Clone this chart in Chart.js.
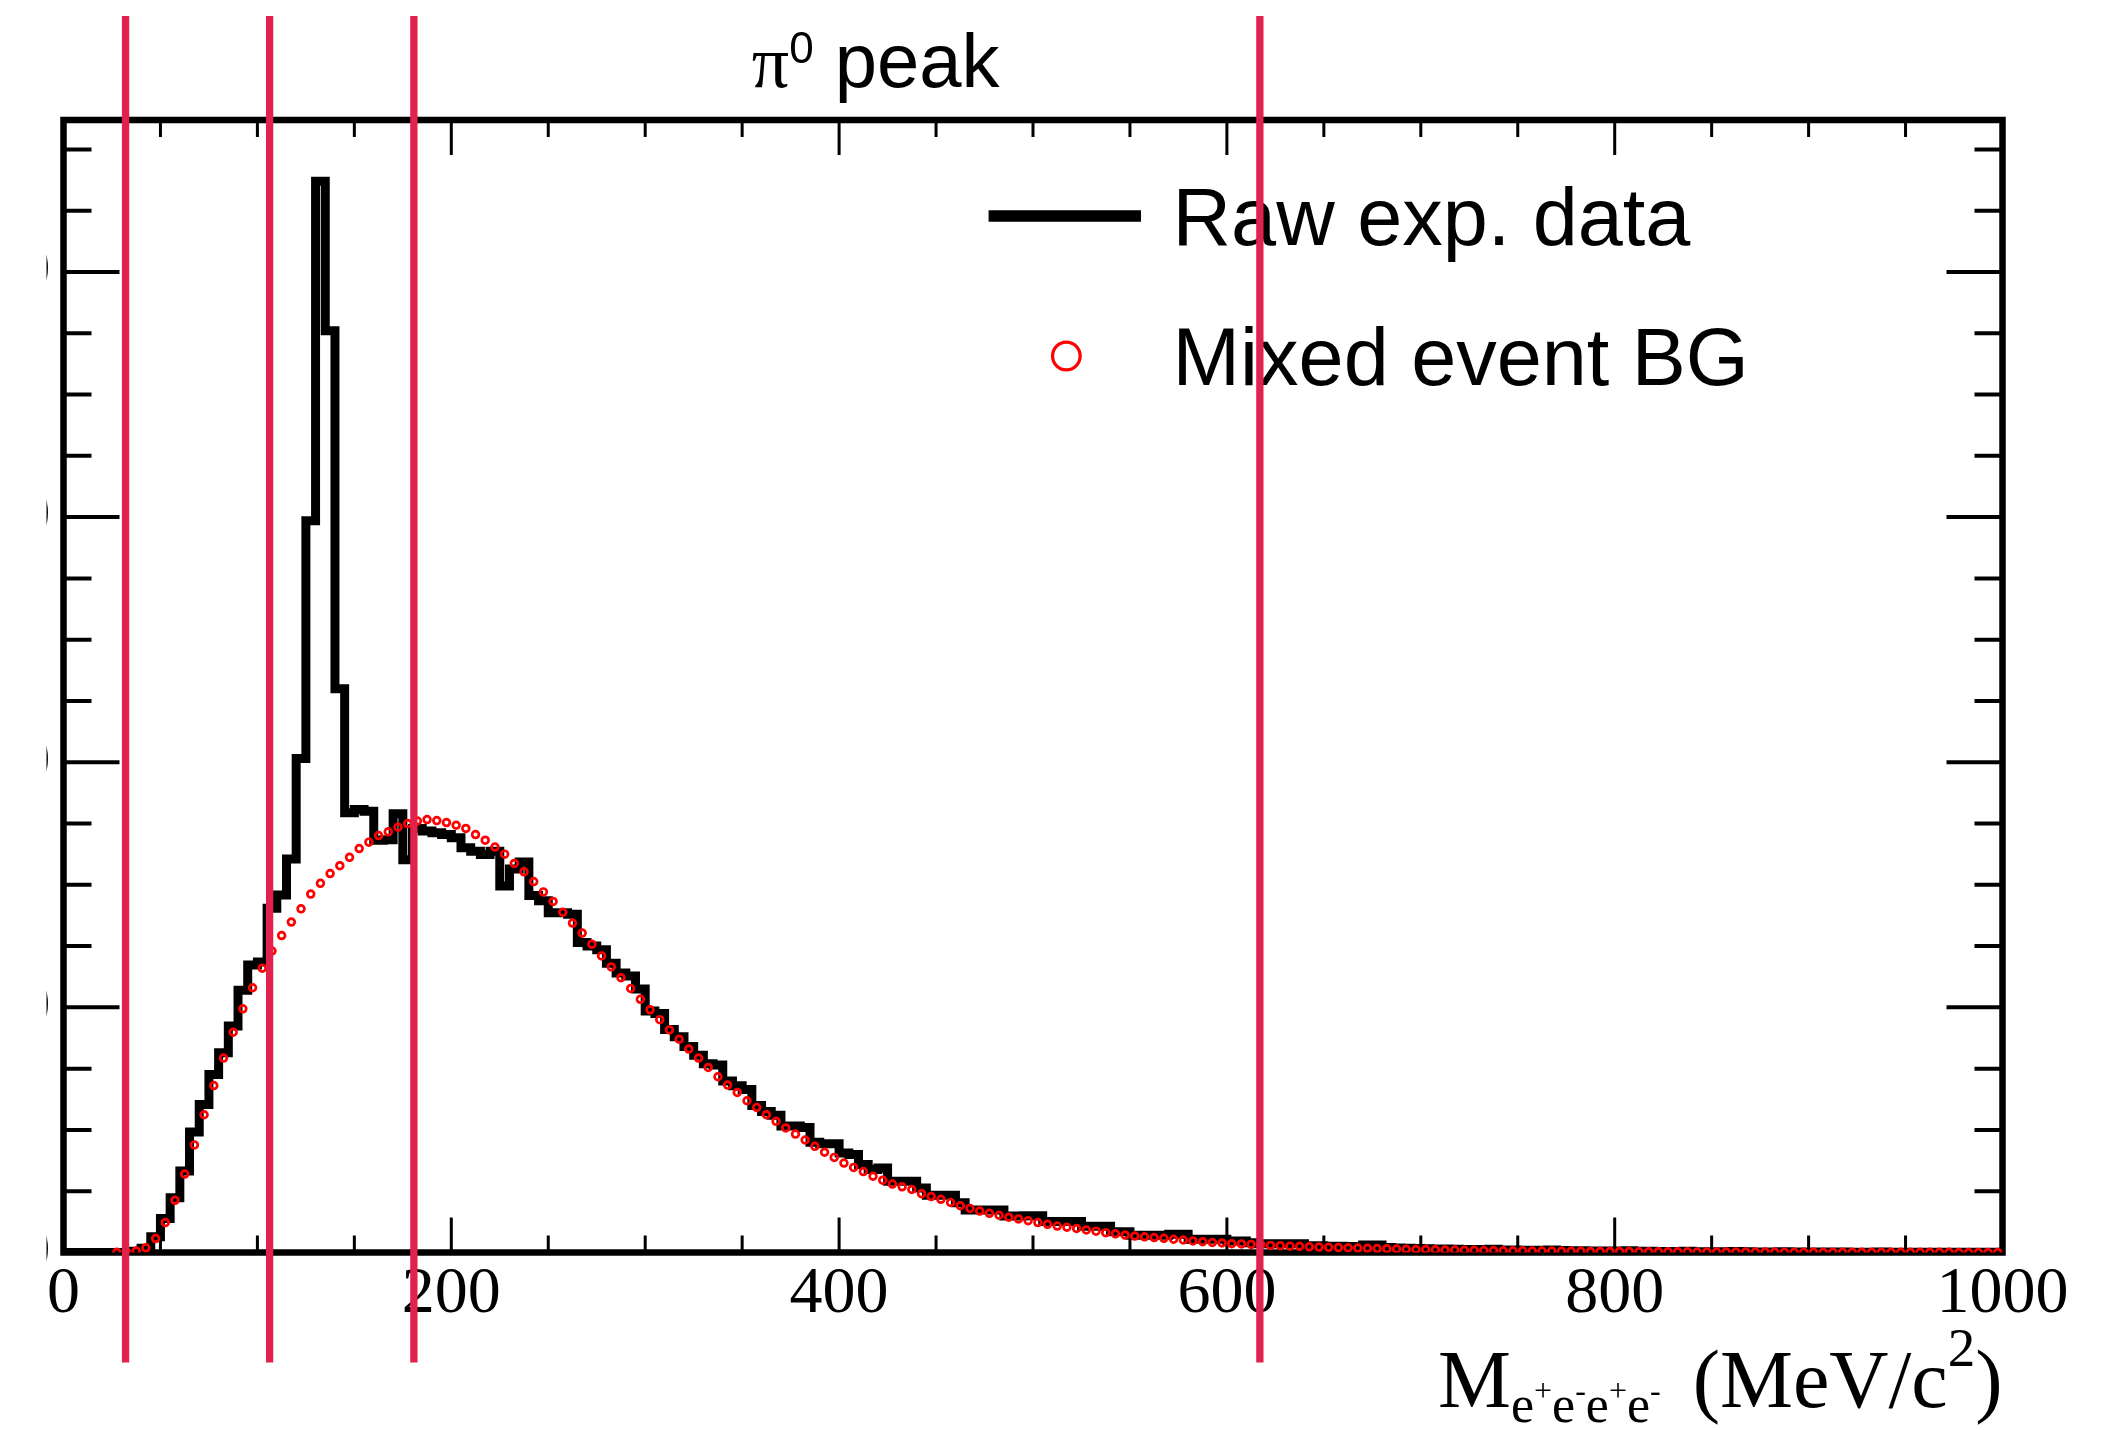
<!DOCTYPE html>
<html>
<head>
<meta charset="utf-8">
<script src="https://cdn.jsdelivr.net/npm/chart.js@4.4.1/dist/chart.umd.min.js"></script>
<style>
  html, body { margin: 0; padding: 0; background: #fff; }
  body { width: 2120px; height: 1430px; overflow: hidden; position: relative; }
  #wrap { position: absolute; left: 44px; top: 0; width: 2076px; height: 1430px; }
</style>
</head>
<body>
<div id="wrap"><canvas id="massChart" width="2076" height="1430"></canvas></div>
<script>
// histogram binning (MeV/c^2)
const binWidth = 5;
const xRange = [0, 1000];
const xMajorTicks = [0, 200, 400, 600, 800, 1000];
const xMinorStep = 50;
const yMajorTicks = [0, 1000, 2000, 3000, 4000];
const yMinorStep = 250;
const yMax = 4620;

// raw e+e-e+e- spectrum, 200 bins of 5 MeV starting at 0
const rawCounts = [
  0, 0, 0, 0, 0, 0, 0, 5, 17, 64,
  139, 223, 332, 492, 604, 726, 815, 924, 1070, 1173,
  1185, 1404, 1458, 1605, 2015, 2985, 4370, 3760, 2300, 1794,
  1807, 1800, 1682, 1684, 1790, 1602, 1730, 1719, 1712, 1705,
  1692, 1651, 1637, 1624, 1637, 1495, 1564, 1593, 1456, 1435,
  1386, 1386, 1380, 1265, 1250, 1235, 1180, 1140, 1128, 1075,
  985, 975, 910, 880, 840, 805, 770, 765, 700, 680,
  665, 600, 575, 560, 516, 516, 510, 450, 444, 444,
  406, 400, 359, 339, 345, 291, 291, 291, 263, 234,
  234, 234, 203, 173, 173, 173, 173, 149, 149, 150,
  150, 126, 126, 126, 126, 107, 107, 107, 85, 85,
  70, 70, 70, 70, 74, 74, 54, 54, 54, 54,
  47, 47, 40, 36, 36, 36, 36, 36, 28, 28,
  26, 25, 24, 23, 31, 31, 20, 18, 17, 16,
  15, 14, 14, 13, 12, 12, 11, 13, 10, 10,
  9, 9, 8, 10, 8, 7, 7, 6, 6, 6,
  5, 7, 5, 5, 4, 4, 4, 5, 3, 3,
  3, 3, 4, 3, 2, 2, 2, 3, 2, 2,
  2, 2, 1, 2, 1, 1, 1, 2, 1, 1,
  1, 1, 1, 1, 1, 1, 1, 1, 1, 1
];

// mixed event background, same binning (null = empty bin)
const mixedBG = [
  null, null, null, null, null, 1, 2, 6, 19, 57,
  122, 213, 320, 439, 562, 681, 793, 899, 994, 1080,
  1160, 1230, 1293, 1348, 1402, 1462, 1506, 1546, 1578, 1612,
  1648, 1674, 1701, 1716, 1735, 1750, 1760, 1766, 1762, 1754,
  1743, 1730, 1705, 1682, 1654, 1625, 1587, 1553, 1513, 1471,
  1432, 1388, 1344, 1303, 1258, 1210, 1165, 1121, 1077, 1033,
  990, 950, 908, 870, 830, 793, 755, 717, 683, 653,
  619, 592, 562, 535, 508, 483, 459, 433, 409, 388,
  365, 347, 330, 311, 295, 279, 268, 257, 240, 228,
  217, 204, 191, 180, 169, 160, 152, 144, 137, 130,
  122, 115, 108, 103, 98, 92, 87, 81, 76, 71,
  67, 64, 61, 58, 54, 51, 47, 44, 41, 39,
  36, 35, 33, 31, 29, 28, 26, 25, 23, 22,
  21, 20, 19, 18, 17, 16, 15, 14, 13, 12,
  12, 11, 10, 10, 9, 9, 8, 8, 7, 7,
  7, 6, 6, 6, 5, 5, 5, 4, 4, 4,
  4, 4, 3, 3, 3, 3, 3, 3, 2, 2,
  2, 2, 2, 2, 2, 2, 2, 1, 1, 1,
  1, 1, 1, 1, 1, 1, 1, 1, 1, 1,
  1, 1, 1, 1, 1, 0, 0, 0, 0, 0
];

// mass cut positions (MeV/c^2)
const cutLines = [32, 106.3, 180.7, 617];

const seriesLabels = ['Raw exp. data', 'Mixed event BG'];

// step line: one point per lower bin edge, plus closing point at the upper edge
const rawPoints = rawCounts.map((c, i) => ({ x: i * binWidth, y: c }));
rawPoints.push({ x: rawCounts.length * binWidth, y: rawCounts[rawCounts.length - 1] });
const bgPoints = mixedBG.map((c, i) => ({ x: i * binWidth + binWidth / 2, y: c }));

const SERIF = '"Liberation Serif", "Times New Roman", serif';
const SANS = '"Liberation Sans", Arial, sans-serif';
const CUT_COLOR = '#e2224c';

// draws a list of text pieces with their own font and baseline shift
function drawRich(ctx, parts, x, baseline, align) {
    let width = 0;
    parts.forEach(p => { ctx.font = p.font; p.w = ctx.measureText(p.t).width; width += p.w; });
    let cx = align === 'right' ? x - width : x;
    ctx.textAlign = 'left';
    ctx.textBaseline = 'alphabetic';
    parts.forEach(p => {
        ctx.font = p.font;
        ctx.fillText(p.t, cx, baseline + p.dy);
        cx += p.w;
    });
}

const frameAndTicks = {
    id: 'frameAndTicks',
    beforeDatasetsDraw(chart) {
        const { ctx, chartArea: a, scales: { x, y } } = chart;
        ctx.save();
        ctx.strokeStyle = '#000';
        ctx.lineCap = 'butt';

        ctx.lineWidth = 3;
        ctx.beginPath();
        for (let v = xRange[0]; v <= xRange[1]; v += xMinorStep) {
            const px = x.getPixelForValue(v);
            const len = xMajorTicks.includes(v) ? 35 : 17;
            ctx.moveTo(px, a.bottom); ctx.lineTo(px, a.bottom - len);
            ctx.moveTo(px, a.top); ctx.lineTo(px, a.top + len);
        }
        ctx.stroke();

        ctx.lineWidth = 4;
        ctx.beginPath();
        for (let v = 0; v <= yMax; v += yMinorStep) {
            const py = y.getPixelForValue(v);
            const len = yMajorTicks.includes(v) ? 56 : 28;
            ctx.moveTo(a.left, py); ctx.lineTo(a.left + len, py);
            ctx.moveTo(a.right, py); ctx.lineTo(a.right - len, py);
        }
        ctx.stroke();

        ctx.lineWidth = 6.5;
        ctx.strokeRect(a.left, a.top, a.right - a.left, a.bottom - a.top);
        ctx.restore();
    }
};

const overlays = {
    id: 'overlays',
    afterDraw(chart) {
        const { ctx, chartArea: a, scales: { x } } = chart;
        const w = a.right - a.left;
        ctx.save();
        ctx.fillStyle = '#000';

        // title
        drawRich(ctx, [
            { t: 'π', font: '74px ' + SERIF, dy: 0 },
            { t: '0', font: '44px ' + SANS, dy: -24 },
            { t: ' peak', font: '76px ' + SANS, dy: 0 }
        ], a.left + w * 0.355, 87, 'left');

        // x axis title, right aligned to the frame
        const main = '82px ' + SERIF, sub = '52px ' + SERIF, sup = '32px ' + SERIF;
        drawRich(ctx, [
            { t: 'M', font: main, dy: 0 },
            { t: 'e', font: sub, dy: 15 }, { t: '+', font: sup, dy: -6 },
            { t: 'e', font: sub, dy: 15 }, { t: '-', font: sup, dy: -6 },
            { t: 'e', font: sub, dy: 15 }, { t: '+', font: sup, dy: -6 },
            { t: 'e', font: sub, dy: 15 }, { t: '-', font: sup, dy: -6 },
            { t: ' ', font: '46px ' + SERIF, dy: 0 },
            { t: ' (MeV/c', font: main, dy: 0 },
            { t: '2', font: '55px ' + SERIF, dy: -41 },
            { t: ')', font: main, dy: 0 }
        ], a.right, 1407, 'right');

        // legend
        const lx = a.left + w * 0.4771;
        ctx.strokeStyle = '#000';
        ctx.lineWidth = 11.5;
        ctx.beginPath();
        ctx.moveTo(lx, a.top + 96);
        ctx.lineTo(lx + w * 0.0786, a.top + 96);
        ctx.stroke();
        ctx.strokeStyle = '#ff0000';
        ctx.lineWidth = 3.2;
        ctx.beginPath();
        ctx.arc(a.left + w * 0.5172, a.top + 236, 13.8, 0, Math.PI * 2);
        ctx.stroke();
        ctx.font = '81px ' + SANS;
        ctx.textAlign = 'left';
        ctx.textBaseline = 'alphabetic';
        ctx.fillText(chart.data.datasets[0].label, a.left + w * 0.572, a.top + 125);
        ctx.fillText(chart.data.datasets[1].label, a.left + w * 0.572, a.top + 265);

        // cut lines on top of everything
        ctx.strokeStyle = CUT_COLOR;
        ctx.lineWidth = 7.3;
        ctx.beginPath();
        cutLines.forEach(v => {
            const px = x.getPixelForValue(v);
            ctx.moveTo(px, a.top - 104);
            ctx.lineTo(px, a.bottom + 110);
        });
        ctx.stroke();
        ctx.restore();
    }
};

const tickFont = { family: SERIF, size: 66, lineHeight: 1.2 };

new Chart(document.getElementById('massChart'), {
    type: 'line',
    data: {
        datasets: [
            {
                label: seriesLabels[0],
                data: rawPoints,
                borderColor: '#000',
                borderWidth: 9,
                borderJoinStyle: 'miter',
                stepped: 'before',
                pointRadius: 0,
                fill: false,
                order: 1
            },
            {
                label: seriesLabels[1],
                data: bgPoints,
                showLine: false,
                pointStyle: 'circle',
                pointRadius: 3.4,
                pointBorderWidth: 2.7,
                pointBorderColor: '#ff0000',
                pointBackgroundColor: 'rgba(0,0,0,0)',
                order: 0
            }
        ]
    },
    options: {
        responsive: false,
        animation: false,
        layout: { padding: { top: 120, right: 117.5, left: 0, bottom: 0 } },
        plugins: {
            legend: { display: false },
            tooltip: { enabled: false },
            title: { display: false }
        },
        scales: {
            x: {
                type: 'linear',
                min: xRange[0],
                max: xRange[1],
                afterBuildTicks: s => { s.ticks = xMajorTicks.map(v => ({ value: v })); },
                afterFit: s => { s.height = 177.5; },
                grid: { display: false, drawTicks: false },
                border: { display: false },
                ticks: {
                    font: tickFont, color: '#000', padding: 3,
                    maxRotation: 0, autoSkip: false,
                    callback: v => String(v)
                }
            },
            y: {
                type: 'linear',
                min: 0,
                max: yMax,
                afterBuildTicks: s => { s.ticks = yMajorTicks.map(v => ({ value: v })); },
                afterFit: s => { s.width = 17; },
                grid: { display: false, drawTicks: false },
                border: { display: false },
                ticks: {
                    font: tickFont, color: '#000', padding: 13,
                    autoSkip: false,
                    callback: v => String(v)
                }
            }
        }
    },
    plugins: [frameAndTicks, overlays]
});
</script>
</body>
</html>
